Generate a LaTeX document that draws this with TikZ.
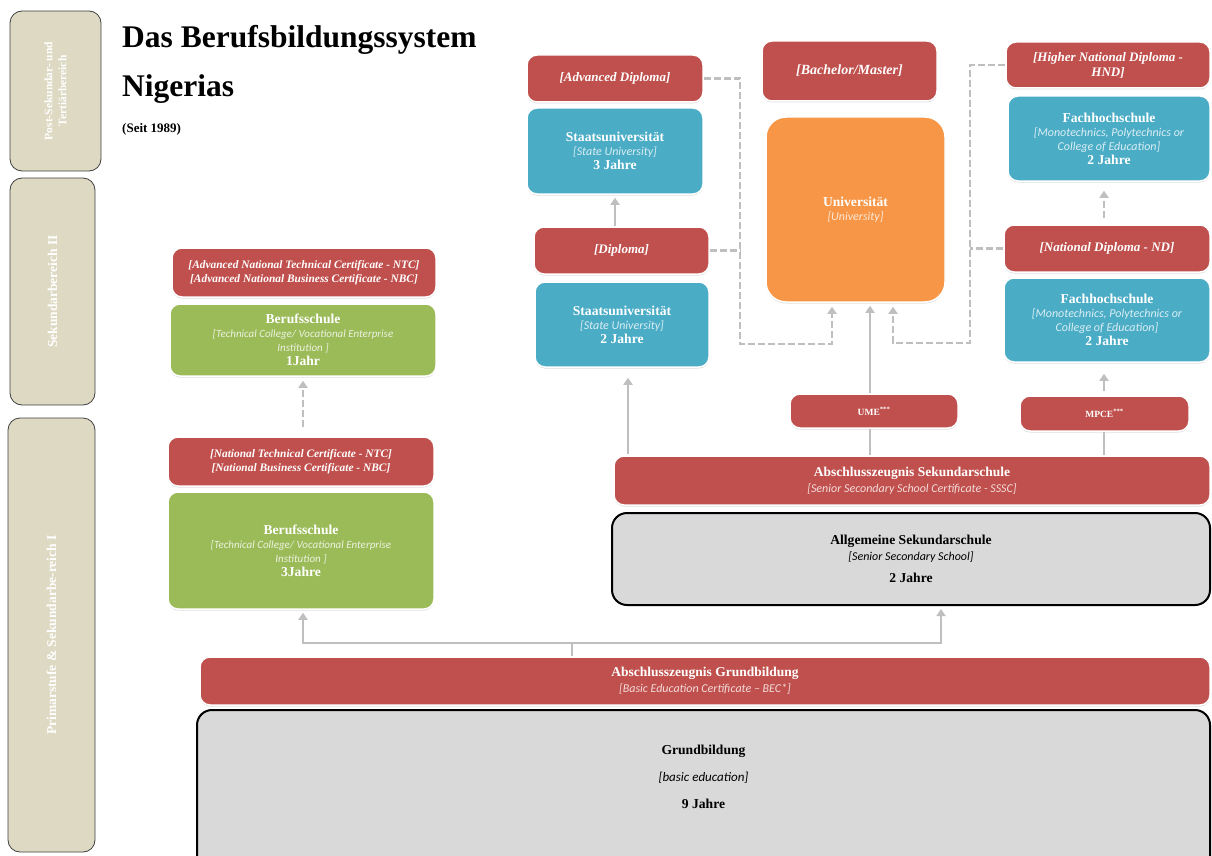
\documentclass[tikz,border=0pt]{standalone}
\usepackage{fontspec}
\setmainfont{Liberation Serif}
\newfontfamily\subfont{Carlito}
\usetikzlibrary{arrows.meta,shadows}
\definecolor{cred}{HTML}{C0504D}
\definecolor{cgreen}{HTML}{9BBB59}
\definecolor{cblue}{HTML}{4BACC6}
\definecolor{corange}{HTML}{F79646}
\definecolor{cgray}{HTML}{D9D9D9}
\definecolor{ctan}{HTML}{DDD9C3}
\definecolor{cline}{HTML}{BFBFBF}
\definecolor{lblue}{HTML}{DAEEF3}
\definecolor{lgreen}{HTML}{EBF1DE}
\definecolor{lorange}{HTML}{FDE9D9}
\definecolor{lred}{HTML}{F2DCDB}
\newcommand\ttl[1]{{\bfseries\fontsize{13.6}{15}\selectfont #1}}
\newcommand\subs[1]{{\subfont\itshape\fontsize{11}{13.5}\selectfont #1}}
\newcommand\subb[1]{{\subfont\itshape\fontsize{12}{14}\selectfont #1}}
\begin{document}
\begin{tikzpicture}[x=1pt,y=-1pt,
  box/.style={rounded corners=10pt, align=center, inner sep=2pt},
  shad/.style={drop shadow={opacity=0.25,shadow xshift=0pt,shadow yshift=-1.5pt}},
  redbox/.style={box, shad, fill=cred, draw=white, line width=1.5pt, text=white,
     font=\bfseries\itshape\fontsize{11.4}{13.5}\selectfont},
  txtbox/.style={box, font=\fontsize{13}{14}\selectfont},
  greenbox/.style={txtbox, shad, fill=cgreen, draw=white, line width=1.5pt, text=white},
  bluebox/.style={txtbox, shad, fill=cblue, draw=white, line width=1.5pt, text=white},
  orangebox/.style={txtbox, shad, fill=corange, draw=white, line width=1.5pt, text=white, rounded corners=20pt},
  graybox/.style={txtbox, fill=cgray, draw=black, line width=2pt, rounded corners=15pt, text=black},
  sidebox/.style={fill=ctan, draw=black!75, line width=0.8pt, rounded corners=12pt, text=white,
     align=center, font=\bfseries\fontsize{13.5}{15}\selectfont},
  gline/.style={draw=cline, line width=2.5pt},
  garrow/.style={gline, -{Triangle[length=7pt,width=9pt]}},
  gdash/.style={draw=cline, line width=2.2pt, dash pattern=on 7pt off 3pt},
  gdarrow/.style={gdash, -{Triangle[length=7pt,width=9pt]}},
]
\useasboundingbox (0,0) rectangle (1212,856);
\fill[white] (0,0) rectangle (1212,856);

% side bars
\node[sidebox, rotate=90, minimum width=160pt, minimum height=91pt, font=\bfseries\fontsize{11.5}{14}\selectfont] (side1) at (55.5,91)
  {Post-Sekundar- und\\Tertiärbereich};
\node[sidebox, rotate=90, minimum width=227pt, minimum height=85pt] (side2) at (52.5,291.5)
  {Sekundarbereich II};
\node[sidebox, rotate=90, minimum width=434pt, minimum height=87pt] (side3) at (51.5,635)
  {Primarstufe \& Sekundarbe-reich I};

% title
\node[anchor=base west, inner sep=0, font=\bfseries\fontsize{31.5}{36}\selectfont] (t1) at (122,48) {Das Berufsbildungssystem};
\node[anchor=base west, inner sep=0, font=\bfseries\fontsize{31.5}{36}\selectfont] (t2) at (122,97) {Nigerias};
\node[anchor=base west, inner sep=0, font=\bfseries\fontsize{13}{15}\selectfont] (t3) at (122,132) {(Seit 1989)};

% left column
\node[redbox, minimum width=264pt, minimum height=49pt] (ntcA) at (304,272.5)
  {[Advanced National Technical Certificate - NTC]\\{}[Advanced National Business Certificate - NBC]};
\node[greenbox, minimum width=266pt, minimum height=72pt] (bs1) at (303,340)
  {\ttl{Berufsschule}\\\textcolor{lgreen}{\subs{[Technical College/ Vocational Enterprise}}\\\textcolor{lgreen}{\subs{Institution ]}}\\\ttl{1Jahr}};
\node[redbox, minimum width=266pt, minimum height=49pt] (ntc) at (301,461.5)
  {[National Technical Certificate - NTC]\\{}[National Business Certificate - NBC]};
\node[greenbox, minimum width=266pt, minimum height=117pt] (bs3) at (301,550.5)
  {\ttl{Berufsschule}\\\textcolor{lgreen}{\subs{[Technical College/ Vocational Enterprise}}\\\textcolor{lgreen}{\subs{Institution ]}}\\\ttl{3Jahre}};

% middle column
\node[redbox, minimum width=176pt, minimum height=47pt, font=\bfseries\itshape\fontsize{13}{15}\selectfont] (advdip) at (615,78.5) {[Advanced Diploma]};
\node[bluebox, minimum width=176pt, minimum height=86pt] (su3) at (615,151)
  {\ttl{Staatsuniversität}\\\textcolor{lblue}{\subb{[State University]}}\\\ttl{3 Jahre}};
\node[redbox, minimum width=175pt, minimum height=47pt, font=\bfseries\itshape\fontsize{13}{15}\selectfont] (dip) at (621.5,250.5) {[Diploma]};
\node[bluebox, minimum width=174pt, minimum height=85pt] (su2) at (622,324.5)
  {\ttl{Staatsuniversität}\\\textcolor{lblue}{\subb{[State University]}}\\\ttl{2 Jahre}};

% university
\node[redbox, minimum width=175pt, minimum height=60pt, font=\bfseries\itshape\fontsize{14}{16}\selectfont] (bama) at (849.5,71) {[Bachelor/Master]};
\node[orangebox, minimum width=179pt, minimum height=185pt] (uni) at (855.5,209.5)
  {\ttl{Universität}\\\textcolor{lorange}{\subb{[University]}}};

% right column
\node[redbox, minimum width=204pt, minimum height=46pt, font=\bfseries\itshape\fontsize{13}{15}\selectfont] (hnd) at (1108,65) {[Higher National Diploma -\\HND]};
\node[bluebox, minimum width=202pt, minimum height=85pt] (fh2) at (1109,138.5)
  {\ttl{Fachhochschule}\\\textcolor{lblue}{\subb{[Monotechnics, Polytechnics or}}\\\textcolor{lblue}{\subb{College of Education]}}\\\ttl{2 Jahre}};
\node[redbox, minimum width=206pt, minimum height=47pt, font=\bfseries\itshape\fontsize{13}{15}\selectfont] (nd) at (1107,248.5) {[National Diploma - ND]};
\node[bluebox, minimum width=206pt, minimum height=84pt] (fh1) at (1107,320)
  {\ttl{Fachhochschule}\\\textcolor{lblue}{\subb{[Monotechnics, Polytechnics or}}\\\textcolor{lblue}{\subb{College of Education]}}\\\ttl{2 Jahre}};

% exams
\node[redbox, minimum width=168pt, minimum height=34pt, font=\bfseries\fontsize{9.5}{11}\selectfont] (ume) at (874,411) {UME\textsuperscript{***}};
\node[redbox, minimum width=169pt, minimum height=35pt, font=\bfseries\fontsize{9.5}{11}\selectfont] (mpce) at (1104.5,413.5) {MPCE\textsuperscript{***}};

% secondary
\node[redbox, minimum width=596pt, minimum height=49pt, font=\fontsize{13.5}{15}\selectfont] (sssc) at (912,480.5)
  {\textbf{Abschlusszeugnis Sekundarschule}\\[1pt]\textcolor{lred}{\subb{[Senior Secondary School Certificate - SSSC]}}};
\node[graybox, minimum width=598pt, minimum height=92pt] (ass) at (911,559)
  {\ttl{Allgemeine Sekundarschule}\\[1.5pt]\subb{[Senior Secondary School]}\\[8.5pt]\ttl{2 Jahre}};

% basic education
\node[redbox, minimum width=1010pt, minimum height=48pt, font=\fontsize{13.5}{15}\selectfont] (bec) at (705,681)
  {\textbf{Abschlusszeugnis Grundbildung}\\[1pt]\textcolor{lred}{\subb{[Basic Education Certificate – BEC*]}}};
\node[graybox, minimum width=1013pt, minimum height=162pt] (gb) at (703.5,791) {};
\node[align=center, text=black, font=\fontsize{13}{14}\selectfont] (gbt) at (703.5,777)
  {\ttl{Grundbildung}\\[13pt]{\subfont\itshape\fontsize{13}{14}\selectfont [basic education]}\\[13pt]\ttl{9 Jahre}};

% connectors
\coordinate (hl) at (572,643);
\coordinate (jL) at (303,643);
\coordinate (jR) at (941,643);
\draw[gline] (bec.north -| hl) -- (hl);
\draw[garrow, shorten >=3pt] (hl) -- (jL) -- (jL |- bs3.south);
\draw[garrow, shorten >=3pt] (hl) -- (jR) -- (jR |- ass.south);

\draw[gdarrow, shorten <=9pt, shorten >=4pt] (ntc.north -| jL) -- (jL |- bs1.south);

\coordinate (cs) at (628,0);
\draw[garrow, shorten <=1pt, shorten >=10pt] (cs |- sssc.north) -- (cs |- su2.south);
\draw[garrow, shorten >=3pt] (su3.south |- dip.north) -- (su3.south);

\coordinate (cu) at (870,0);
\draw[gline] (cu |- ume.south) -- (cu |- sssc.north);
\draw[garrow, shorten >=3pt] (cu |- ume.north) -- (cu |- uni.south);

\coordinate (cm) at (1104,0);
\draw[gline] (cm |- mpce.south) -- (cm |- sssc.north);
\draw[garrow, shorten <=4pt, shorten >=11pt] (cm |- mpce.north) -- (cm |- fh1.south);
\draw[gdarrow, shorten <=6pt, shorten >=9pt] (cm |- nd.north) -- (cm |- fh2.south);

\coordinate (b1) at (740,0);
\coordinate (b2) at (832,344);
\draw[gdarrow, shorten >=4pt] (advdip.east) -- (advdip.east -| b1) -- (b1 |- b2) -- (b2) -- (b2 |- uni.south);
\draw[gdash] (dip.east) -- (dip.east -| b1);

\coordinate (b3) at (970,0);
\coordinate (b4) at (893,343);
\draw[gdarrow, shorten >=4pt] (hnd.west) -- (hnd.west -| b3) -- (b3 |- b4) -- (b4) -- (b4 |- uni.south);
\draw[gdash] (nd.west) -- (nd.west -| b3);
\end{tikzpicture}
\end{document}
